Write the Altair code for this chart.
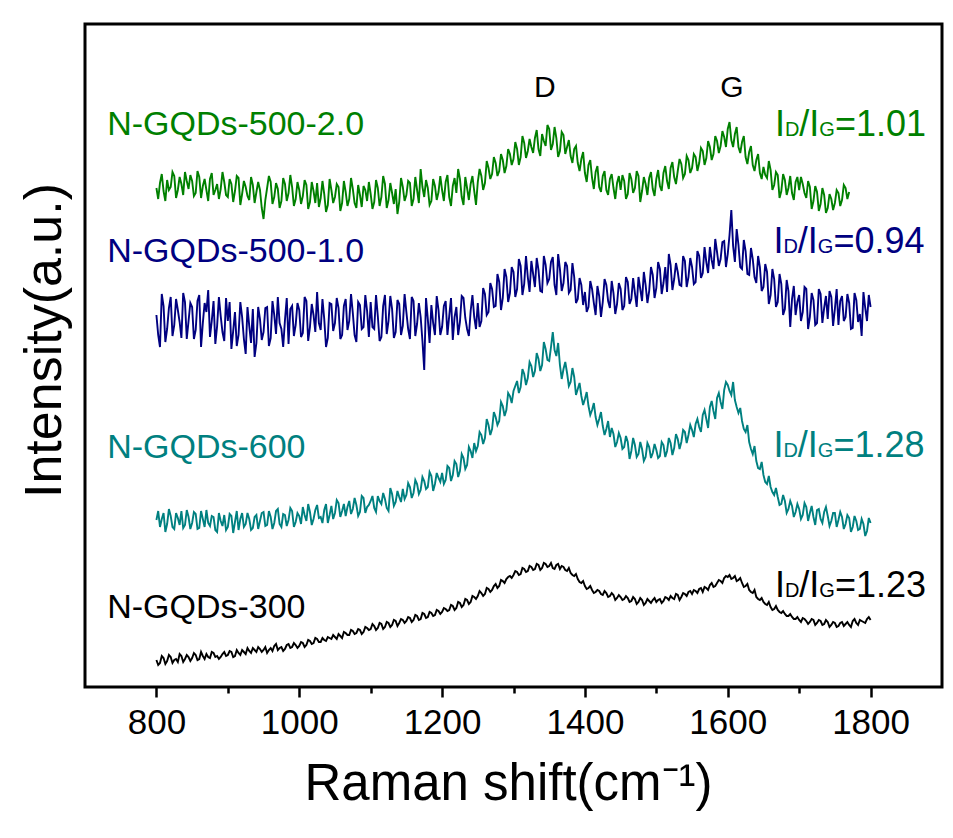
import altair as alt
import pandas as pd

FONT = "Liberation Sans"

# ---------------- data (intensity in arbitrary units) ----------------
shift_full = list(range(800, 1805, 5))      # 800 ... 1800
shift_green = list(range(800, 1775, 5))     # 800 ... 1770

# samples at the listed shifts
n_gqds_500_2 = [
    499, 504, 496, 507, 500, 511, 497, 503, 515, 498,
    506, 494, 510, 501, 497, 508, 492, 503, 498, 505,
    490, 503, 496, 509, 493, 500, 487, 502, 495, 497,
    468, 499, 505, 490, 498, 486, 503, 494, 500, 488,
    497, 491, 502, 485, 496, 504, 489, 493, 482, 497,
    490, 500, 484, 495, 488, 498, 479, 492, 501, 486,
    493, 485, 499, 490, 503, 487, 494, 498, 485, 500,
    492, 504, 488, 497, 518, 490, 499, 486, 501, 495,
    497, 505, 490, 501, 494, 508, 482, 499, 503, 496,
    505, 511, 504, 519, 513, 524, 516, 527, 521, 533,
    528, 538, 530, 544, 536, 540, 549, 538, 553, 541,
    558, 543, 549, 536, 552, 540, 531, 538, 524, 528,
    514, 522, 509, 515, 500, 511, 497, 508, 499, 504,
    497, 506, 493, 508, 499, 511, 496, 503, 509, 498,
    508, 501, 514, 506, 519, 510, 516, 523, 513, 527,
    519, 530, 524, 536, 529, 540, 533, 546, 541, 550,
    558, 547, 553, 540, 545, 530, 535, 522, 527, 514,
    520, 509, 517, 502, 512, 496, 507, 499, 494, 505,
    497, 503, 489, 500, 486, 495, 483, 492, 479, 488,
    484, 494, 487, 499, 495,
]
# samples half-way between the listed shifts (+2.5 cm-1)
n_gqds_500_2_mid = [
    488, 513, 486, 497, 515, 489, 510, 492, 506, 512,
    491, 516, 489, 508, 486, 514, 497, 488, 515, 492,
    508, 485, 511, 482, 506, 491, 510, 484, 505, 479,
    487, 511, 483, 504, 479, 509, 486, 512, 481, 505,
    483, 507, 478, 505, 484, 480, 506, 475, 508, 484,
    503, 476, 506, 481, 509, 484, 502, 480, 497, 505,
    478, 507, 481, 511, 479, 504, 483, 473, 509, 486,
    506, 481, 510, 484, 500, 507, 482, 508, 487, 511,
    486, 512, 481, 509, 518, 490, 510, 487, 511, 482,
    518, 497, 526, 508, 530, 511, 533, 514, 538, 522,
    545, 522, 551, 529, 548, 534, 557, 531, 546, 562,
    537, 560, 530, 555, 533, 547, 524, 541, 516, 535,
    505, 527, 498, 521, 495, 516, 492, 513, 488, 511,
    512, 488, 514, 494, 516, 485, 510, 492, 515, 491,
    517, 496, 521, 498, 525, 503, 528, 509, 531, 514,
    533, 516, 539, 522, 546, 527, 551, 534, 556, 540,
    565, 540, 560, 534, 551, 523, 541, 516, 533, 508,
    512, 526, 497, 515, 489, 513, 492, 511, 487, 510,
    510, 494, 506, 478, 501, 476, 499, 474, 493, 477,
    497, 481, 502, 488,
]

n_gqds_500_1 = [
    372, 340, 381, 358, 390, 362, 377, 349, 385, 366,
    380, 357, 392, 364, 375, 350, 386, 361, 371, 346,
    366, 338, 375, 352, 370, 333, 361, 378, 344, 368,
    355, 380, 349, 372, 390, 358, 367, 343, 381, 362,
    377, 354, 386, 360, 372, 395, 357, 368, 349, 383,
    364, 379, 352, 388, 366, 374, 345, 382, 360, 376,
    385, 358, 371, 350, 392, 366, 378, 355, 383, 361,
    375, 348, 386, 363, 370, 317, 368, 382, 352, 377,
    360, 386, 371, 347, 380, 365, 389, 358, 376, 370,
    384, 366, 393, 375, 398, 381, 405, 389, 410, 394,
    415, 398, 421, 403, 410, 426, 400, 417, 395, 422,
    408, 430, 392, 418, 404, 421, 397, 410, 388, 402,
    395, 380, 398, 372, 391, 385, 402, 379, 394, 383,
    398, 381, 405, 388, 394, 410, 386, 402, 396, 412,
    399, 418, 404, 395, 422, 408, 415, 401, 426, 410,
    420, 405, 431, 414, 425, 440, 418, 435, 428, 446,
    433, 477, 425, 442, 418, 436, 412, 428, 404, 420,
    400, 415, 392, 408, 385, 403, 378, 396, 388, 372,
    392, 375, 398, 370, 387, 364, 393, 379, 368, 390,
    378, 362, 391, 370, 384, 359, 387, 373, 395, 366,
    380,
]
n_gqds_500_1_mid = [
    352, 393, 345, 379, 351, 388, 365, 394, 348, 384,
    348, 386, 340, 384, 397, 366, 343, 390, 355, 389,
    385, 356, 341, 385, 348, 380, 344, 330, 380, 347,
    379, 341, 386, 353, 364, 340, 389, 378, 351, 384,
    350, 390, 346, 383, 355, 364, 388, 340, 384, 356,
    389, 348, 381, 357, 393, 352, 385, 358, 392, 350,
    360, 392, 346, 381, 353, 391, 349, 387, 352, 393,
    358, 390, 351, 384, 346, 389, 344, 364, 391, 352,
    381, 352, 389, 370, 352, 391, 369, 351, 392, 358,
    360, 399, 372, 404, 380, 413, 377, 418, 385, 420,
    390, 428, 392, 431, 395, 413, 429, 396, 431, 404,
    425, 402, 433, 396, 425, 394, 424, 384, 409, 382,
    375, 406, 384, 401, 370, 408, 386, 406, 373, 404,
    377, 410, 383, 409, 380, 398, 415, 384, 420, 389,
    425, 393, 420, 433, 397, 424, 402, 431, 400, 429,
    403, 436, 409, 440, 414, 427, 448, 421, 445, 420,
    452, 441, 458, 420, 447, 413, 439, 410, 431, 396,
    423, 383, 418, 380, 413, 372, 407, 360, 401, 385,
    366, 400, 358, 394, 362, 398, 364, 391, 396, 361,
    398, 386, 366, 393, 358, 394, 365, 351, 379, 392,
]

n_gqds_600 = [
    167, 160, 174, 163, 171, 158, 169, 176, 162, 170,
    164, 173, 159, 168, 177, 161, 170, 155, 166, 172,
    160, 171, 165, 157, 174, 163, 168, 159, 172, 166,
    175, 162, 170, 164, 178, 160, 172, 167, 176, 165,
    171, 180, 166, 175, 168, 182, 170, 177, 164, 181,
    174, 184, 176, 171, 186, 178, 182, 175, 189, 180,
    186, 179, 191, 183, 188, 176, 193, 185, 190, 198,
    192, 200, 194, 203, 197, 206, 200, 211, 203, 209,
    214, 207, 219, 212, 223, 216, 229, 222, 236, 244,
    241, 252, 249, 262, 258, 270, 266, 281, 277, 291,
    296, 306, 300, 313, 309, 321, 316, 328, 322, 338,
    326, 355, 331, 322, 318, 314, 305, 310, 298, 291,
    288, 281, 277, 270, 268, 261, 258, 250, 253, 245,
    249, 240, 245, 236, 242, 233, 238, 230, 240, 234,
    237, 231, 242, 236, 244, 239, 248, 245, 255, 252,
    257, 263, 260, 272, 268, 280, 276, 289, 285, 297,
    302, 292, 287, 274, 266, 255, 245, 233, 226, 218,
    212, 203, 200, 192, 190, 183, 186, 178, 181, 175,
    178, 172, 180, 174, 170, 177, 168, 175, 171, 166,
    174, 167, 170, 163, 169, 160, 166, 158, 163, 156,
    164,
]
n_gqds_600_mid = [
    176, 168, 155, 178, 160, 174, 162, 159, 177, 158,
    175, 158, 176, 160, 164, 171, 157, 174, 161, 157,
    173, 154, 176, 168, 160, 174, 157, 170, 158, 174,
    161, 176, 158, 176, 163, 173, 161, 179, 160, 174,
    163, 172, 183, 162, 177, 169, 164, 183, 172, 168,
    187, 170, 183, 180, 173, 189, 171, 191, 174, 182,
    191, 175, 186, 194, 179, 199, 181, 196, 185, 188,
    204, 189, 207, 193, 210, 198, 215, 196, 214, 205,
    203, 221, 206, 226, 210, 233, 218, 240, 229, 236,
    255, 243, 268, 252, 275, 262, 285, 271, 294, 284,
    301, 294, 318, 302, 325, 310, 334, 316, 345, 327,
    340, 337, 344, 308, 325, 301, 319, 292, 304, 282,
    295, 272, 284, 262, 275, 252, 266, 259, 240, 254,
    238, 251, 228, 249, 230, 245, 226, 244, 229, 243,
    229, 245, 230, 249, 232, 253, 238, 257, 244, 262,
    250, 268, 255, 277, 259, 286, 268, 294, 278, 305,
    296, 305, 280, 279, 258, 262, 238, 241, 219, 225,
    205, 211, 195, 199, 182, 192, 174, 186, 170, 183,
    168, 184, 166, 181, 162, 178, 164, 180, 161, 174,
    160, 175, 158, 172, 155, 171, 157, 168, 151, 169,
]

n_gqds_300 = [
    27, 24, 29, 26, 30, 27, 25, 31, 28, 30,
    29, 32, 28, 31, 33, 29, 34, 31, 30, 35,
    32, 35, 31, 34, 37, 33, 36, 39, 35, 38,
    37, 34, 39, 41, 37, 40, 38, 43, 40, 42,
    41, 44, 42, 46, 44, 48, 45, 47, 50, 48,
    50, 53, 49, 54, 52, 56, 54, 57, 55, 59,
    58, 61, 59, 63, 60, 64, 62, 66, 64, 67,
    66, 69, 67, 71, 68, 73, 70, 74, 72, 76,
    75, 78, 77, 81, 79, 84, 82, 87, 85, 90,
    91, 94, 93, 98, 97, 103, 101, 106, 108, 111,
    112, 115, 113, 118, 116, 120, 118, 122, 119, 123,
    121, 119, 122, 118, 120, 116, 114, 111, 108, 104,
    101, 99, 97, 95, 96, 92, 94, 91, 92, 89,
    90, 88, 89, 86, 88, 85, 87, 84, 86, 87,
    85, 88, 86, 89, 91, 88, 92, 90, 93, 95,
    93, 96, 98, 95, 99, 102, 100, 104, 106, 109,
    110, 108, 111, 107, 104, 101, 97, 94, 90, 87,
    85, 82, 80, 78, 77, 74, 73, 71, 70, 68,
    67, 69, 66, 65, 67, 64, 66, 63, 65, 62,
    64, 61, 65, 63, 62, 66, 64, 67, 65, 68,
    67,
]
n_gqds_300_mid = [
    22, 31, 23, 32, 24, 28, 33, 25, 32, 26,
    34, 27, 35, 28, 30, 35, 30, 28, 33, 31,
    36, 30, 37, 32, 35, 39, 34, 37, 40, 35,
    40, 37, 36, 43, 39, 36, 42, 39, 44, 39,
    45, 40, 47, 43, 49, 45, 49, 46, 49, 52,
    48, 51, 55, 52, 57, 53, 58, 53, 60, 57,
    63, 57, 64, 58, 65, 60, 67, 61, 68, 64,
    70, 65, 72, 67, 74, 69, 75, 71, 77, 73,
    79, 76, 82, 77, 85, 80, 88, 83, 91, 88,
    96, 91, 99, 95, 101, 99, 107, 104, 110, 109,
    116, 112, 119, 115, 121, 117, 123, 117, 124, 120,
    124, 118, 123, 121, 117, 119, 112, 113, 105, 106,
    98, 101, 94, 97, 93, 96, 90, 94, 87, 92,
    87, 91, 85, 90, 83, 89, 82, 88, 84, 89,
    87, 84, 90, 87, 89, 93, 87, 94, 91, 96,
    97, 94, 99, 100, 97, 104, 101, 107, 104, 111,
    112, 109, 106, 109, 100, 103, 95, 97, 88, 89,
    83, 85, 77, 81, 75, 76, 71, 73, 68, 70,
    65, 68, 63, 68, 62, 67, 62, 67, 60, 65,
    60, 64, 61, 65, 60, 68, 62, 66, 64, 70,
]

series_names = ["N-GQDs-500-2.0", "N-GQDs-500-1.0", "N-GQDs-600", "N-GQDs-300"]
series_colors = ["#008000", "#000080", "#008080", "#000000"]
ratio_texts = ["=1.01", "=0.94", "=1.28", "=1.23"]

# label anchor positions (data units)
name_x = [731, 731, 731, 731]
name_y = [552, 425, 229, 69]
ratio_x = [1666, 1664, 1664, 1666]
ratio_y = [551, 434, 230, 90]
peak_names = ["D", "G"]
peak_x = [1344, 1606]
peak_y = [590, 590]

# ---------------- tables ----------------
rows = []
for name, xs, ys, ys_mid in [
    (series_names[0], shift_green, n_gqds_500_2, n_gqds_500_2_mid),
    (series_names[1], shift_full, n_gqds_500_1, n_gqds_500_1_mid),
    (series_names[2], shift_full, n_gqds_600, n_gqds_600_mid),
    (series_names[3], shift_full, n_gqds_300, n_gqds_300_mid),
]:
    for x, y in zip(xs, ys):
        rows.append({"shift": x, "intensity": y, "series": name})
    for x, y in zip(xs[:-1], ys_mid):
        rows.append({"shift": x + 2.5, "intensity": y, "series": name})
df = pd.DataFrame(rows).sort_values(["series", "shift"]).reset_index(drop=True)

names_df = pd.DataFrame({"shift": name_x, "intensity": name_y,
                         "label": series_names, "color": series_colors})
ratio_df = pd.DataFrame({"shift": ratio_x, "intensity": ratio_y,
                         "rest": ratio_texts, "color": series_colors})
peaks_df = pd.DataFrame({"shift": peak_x, "intensity": peak_y, "label": peak_names})

# ---------------- encodings ----------------
x_scale = alt.Scale(domain=[700, 1900], nice=False, zero=False)
y_scale = alt.Scale(domain=[0, 663], nice=False, zero=False)

x_axis = alt.Axis(
    values=list(range(800, 1801, 100)),
    format="d",
    labelExpr="datum.value % 200 === 0 ? datum.label : ''",
    tickSize={"condition": {"test": "datum.value % 200 === 0", "value": 10}, "value": 6},
    tickWidth=2.5,
    tickColor="black",
    domain=False,
    grid=False,
    labelFontSize=35,
    labelFont=FONT,
    labelColor="black",
    labelPadding=8,
    title="Raman shift(cm\u207b\u00b9)",
    titleFontSize=51,
    titleFont=FONT,
    titleFontWeight="normal",
    titleColor="black",
    titleBaseline="top",
    titleY=72,
    titleX=423,
)
y_axis = alt.Axis(
    labels=False, ticks=False, domain=False, grid=False,
    title="Intensity(a.u.)",
    titleFontSize=52,
    titleFont=FONT,
    titleFontWeight="normal",
    titleColor="black",
    titleAngle=270,
    titleBaseline="alphabetic",
    titleAlign="center",
    titleX=-25,
    titleY=316,
)

X = alt.X("shift:Q", scale=x_scale, axis=x_axis)
Y = alt.Y("intensity:Q", scale=y_scale, axis=y_axis)

lines = alt.Chart(df).mark_line(strokeWidth=1.9, clip=True).encode(
    x=X, y=Y,
    color=alt.Color("series:N", scale=alt.Scale(domain=series_names, range=series_colors), legend=None),
    order="shift:Q",
)

names = alt.Chart(names_df).mark_text(
    align="left", baseline="alphabetic", font=FONT, fontSize=34
).encode(x=X, y=Y, text="label:N", color=alt.Color("color:N", scale=None))

def ratio_piece(txt, size, dx):
    return alt.Chart(ratio_df).mark_text(
        align="left", baseline="alphabetic", font=FONT, fontSize=size, dx=dx, text=txt
    ).encode(x=X, y=Y, color=alt.Color("color:N", scale=None))

r1 = ratio_piece("I", 36, 0)
r2 = ratio_piece("D", 20, 10)
r3 = ratio_piece("/I", 36, 24.4)
r4 = ratio_piece("G", 20, 44.4)
r5 = alt.Chart(ratio_df).mark_text(
    align="left", baseline="alphabetic", font=FONT, fontSize=36, dx=60
).encode(x=X, y=Y, text="rest:N", color=alt.Color("color:N", scale=None))

peaks = alt.Chart(peaks_df).mark_text(
    align="center", baseline="alphabetic", font=FONT, fontSize=30, color="black"
).encode(x=X, y=Y, text="label:N")

chart = alt.layer(lines, names, r1, r2, r3, r4, r5, peaks).properties(
    width=857, height=663,
    autosize=alt.AutoSizeParams(type="none"),
    padding={"left": 85, "top": 24, "right": 11, "bottom": 151},
    background="white",
).configure_view(stroke="black", strokeWidth=3)

chart.save("out.html", embed_options={"renderer": "svg", "actions": False})
